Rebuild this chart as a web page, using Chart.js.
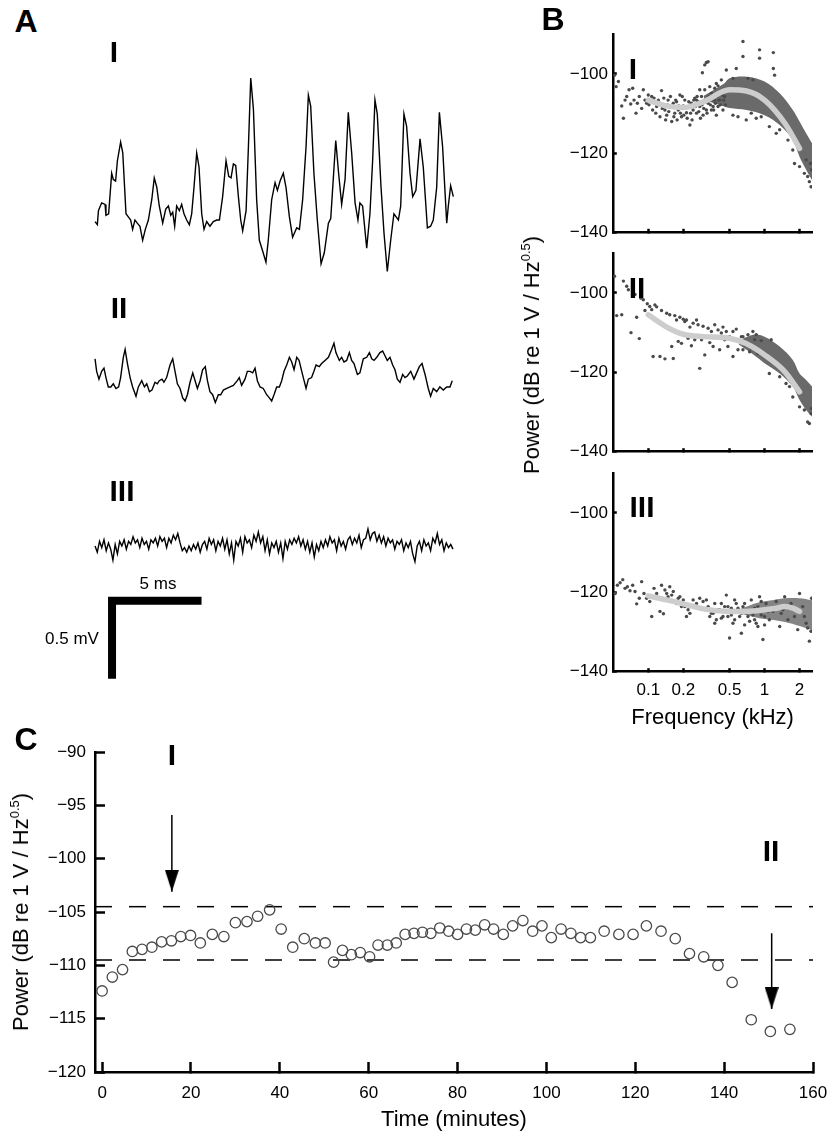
<!DOCTYPE html>
<html>
<head>
<meta charset="utf-8">
<title>Field potential traces, spectra and power over time</title>
<script src="https://cdn.jsdelivr.net/npm/chart.js@4.4.1/dist/chart.umd.min.js"></script>
<style>
  body { margin: 0; background: #fff; }
  #fig { position: relative; width: 830px; height: 1137px; overflow: hidden;
         font-family: 'Liberation Sans', Arial, sans-serif; color: #000; }
  #fig canvas { position: absolute; }
  .txt { position: absolute; transform: translate(-50%, -50%); line-height: 1; white-space: nowrap; }
  .panel { font-size: 32px; font-weight: bold; }
  .roman { font-size: 30px; font-weight: bold; }
  .small { font-size: 17px; }
  .ytitle { position: absolute; transform: translate(-50%, -50%) rotate(-90deg);
            font-size: 22px; line-height: 1; white-space: nowrap; }
  .ytitle sup { font-size: 13px; vertical-align: 9px; line-height: 0; }
</style>
</head>
<body>
<div id="fig">
  <canvas id="traces" width="480" height="660" style="left:0;top:40px"></canvas>
  <canvas id="specI" width="350" height="245" style="left:480px;top:0"></canvas>
  <canvas id="specII" width="350" height="225" style="left:480px;top:240px"></canvas>
  <canvas id="specIII" width="350" height="290" style="left:480px;top:460px"></canvas>
  <canvas id="timeline" width="830" height="447" style="left:0;top:690px"></canvas>

  <div class="txt panel" style="left:26px;top:21px">A</div>
  <div class="txt panel" style="left:553px;top:19px">B</div>
  <div class="txt panel" style="left:26px;top:739px">C</div>

  <div class="txt roman" style="left:114px;top:52px">I</div>
  <div class="txt roman" style="left:119px;top:308px">II</div>
  <div class="txt roman" style="left:122px;top:491px">III</div>
  <div class="txt small" style="left:158px;top:583px">5 ms</div>
  <div class="txt small" style="left:72px;top:638px">0.5 mV</div>

  <div class="txt roman" style="left:633px;top:69px">I</div>
  <div class="txt roman" style="left:637px;top:288px">II</div>
  <div class="txt roman" style="left:642px;top:507px">III</div>
  <div class="ytitle" style="left:532px;top:355px">Power (dB re 1 V / Hz<sup>0.5</sup>)</div>

  <div class="txt roman" style="left:172px;top:755px">I</div>
  <div class="txt roman" style="left:771px;top:851px">II</div>
  <div class="ytitle" style="left:21px;top:912px">Power (dB re 1 V / Hz<sup>0.5</sup>)</div>
</div>

<script>
// ---- A: raw traces (ms, mV) ----
const traceTimeI = [0,0.13,0.19,0.37,0.56,0.61,0.76,0.93,1.02,1.15,1.25,1.43,1.55,1.73,1.86,1.99,2.10,2.23,2.36,2.51,2.66,2.81,2.98,3.17,3.31,3.45,3.59,3.78,3.95,4.10,4.23,4.34,4.45,4.56,4.71,4.84,4.97,5.12,5.27,5.40,5.53,5.68,5.81,5.96,6.09,6.24,6.42,6.61,6.80,6.95,7.13,7.32,7.47,7.60,7.73,7.86,8.01,8.14,8.25,8.44,8.57,8.70,8.85,9.03,9.18,9.37,9.55,9.68,9.87,10.06,10.19,10.34,10.52,10.67,10.86,11.04,11.27,11.42,11.60,11.79,11.92,12.05,12.23,12.42,12.63,12.81,13.04,13.17,13.31,13.45,13.61,13.78,13.97,14.15,14.34,14.53,14.69,14.80,14.95,15.18,15.36,15.51,15.64,15.77,15.98,16.15,16.33,16.52,16.70,16.95,17.08,17.26,17.41,17.60,17.75,17.93,18.16,18.34,18.57,18.75,18.90,19.09,19.24,19.42,19.65,19.74,19.87,20.02];
const traceVoltI = [-0.01,-0.03,0.06,0.11,0.10,0.03,0.04,0.30,0.26,0.25,0.38,0.50,0.43,0.04,0.02,0,-0.06,0.00,-0.02,-0.04,-0.13,-0.06,0,0.13,0.27,0.21,0.09,-0.02,0.07,0.09,0.03,0.05,-0.04,0.09,0.06,0.10,0.04,0,-0.03,0.04,0.21,0.43,0.34,0.04,-0.06,-0.01,-0.04,-0.01,0,0.00,0.15,0.38,0.28,0.27,0.36,0.35,0.15,0,-0.07,0.06,0.47,0.91,0.71,0.13,-0.13,-0.20,-0.27,-0.13,0.13,0.24,0.19,0.25,0.30,0.21,0.02,-0.11,-0.05,-0.06,0.13,0.47,0.80,0.73,0.30,0,-0.28,-0.21,-0.02,0.01,0.26,0.51,0.30,0.10,0.26,0.69,0.43,0.11,0,0.11,0.09,-0.18,0.04,0.38,0.77,0.68,0.21,-0.09,-0.33,-0.13,0.04,0,0.09,0.68,0.60,0.30,0.15,0.19,0.52,0.34,-0.05,-0.04,0,0.21,0.69,0.47,-0.02,0.09,0.22,0.15];

const traceTimeII = [0,0.09,0.22,0.37,0.50,0.61,0.74,0.88,1.02,1.17,1.32,1.43,1.58,1.68,1.81,1.96,2.10,2.29,2.42,2.61,2.76,2.89,3.04,3.18,3.35,3.48,3.59,3.74,3.85,4.00,4.19,4.34,4.47,4.60,4.75,4.90,5.03,5.16,5.31,5.46,5.59,5.72,5.87,6.01,6.16,6.28,6.42,6.57,6.72,6.89,7.02,7.17,7.36,7.54,7.73,7.95,8.06,8.19,8.38,8.51,8.66,8.81,8.94,9.07,9.22,9.40,9.59,9.74,9.87,10.00,10.15,10.30,10.43,10.56,10.71,10.86,10.99,11.12,11.27,11.40,11.55,11.68,11.79,11.92,12.10,12.23,12.35,12.53,12.66,12.85,13.04,13.22,13.35,13.46,13.65,13.78,13.91,14.06,14.21,14.34,14.47,14.66,14.80,14.99,15.18,15.33,15.46,15.59,15.74,15.92,16.07,16.20,16.33,16.48,16.63,16.76,16.89,17.04,17.19,17.32,17.45,17.64,17.82,17.97,18.12,18.27,18.44,18.62,18.75,18.90,19.09,19.27,19.46,19.65,19.83,19.96];
const traceVoltII = [0.14,0.06,0.01,0.06,0.08,0.02,-0.04,-0.04,-0.02,-0.05,-0.04,0.02,0.15,0.20,0.11,0.02,-0.04,-0.10,-0.04,0,-0.04,-0.02,-0.07,-0.06,-0.01,-0.02,0,0.01,-0.01,0.02,0.10,0.14,0.06,-0.02,-0.05,-0.11,-0.13,-0.09,-0.01,0.05,0,-0.05,0,0.07,0.09,0,-0.07,-0.09,-0.14,-0.09,-0.09,-0.06,-0.05,-0.04,-0.03,0,0.02,-0.03,0.01,0.06,0.06,0.05,0.08,0,-0.04,-0.05,-0.09,-0.11,-0.13,-0.09,-0.04,-0.04,0,0.06,0.10,0.15,0.12,0.07,0.15,0.13,0.06,0,-0.05,0.01,0.02,0.06,0.10,0.09,0.11,0.13,0.15,0.20,0.24,0.18,0.13,0.15,0.12,0.13,0.18,0.13,0.11,0.04,0.05,0.14,0.15,0.18,0.14,0.13,0.15,0.18,0.19,0.16,0.13,0.15,0.10,0.07,0.01,-0.01,0.04,0.02,0.03,0.06,0.01,0.05,0.09,0.11,0.04,-0.05,-0.10,-0.05,-0.07,-0.04,-0.06,-0.04,-0.04,0];

// trace III is sampled every 0.125 ms
const traceStepIII = 0.125;
const traceVoltIII = [0.0,-0.04,0.03,-0.01,0.04,-0.03,0.02,-0.02,-0.09,
  0.01,-0.05,0.03,0.0,0.04,-0.02,0.03,0.01,
  0.06,0.02,0.04,-0.01,0.05,0.01,0.03,-0.02,
  0.04,0.02,0.05,0.0,0.06,0.03,0.05,-0.01,
  0.05,0.02,0.07,0.04,0.08,0.02,-0.03,-0.01,
  -0.04,0.0,-0.03,0.01,-0.02,0.02,-0.04,0.01,
  0.03,-0.02,0.05,0.01,0.04,-0.03,0.03,0.0,
  0.05,-0.02,0.04,-0.05,0.02,-0.09,0.03,0.0,
  0.05,-0.04,0.06,0.02,0.04,-0.01,0.07,0.03,
  0.09,0.02,0.06,-0.03,0.04,-0.05,0.02,-0.01,
  0.03,-0.04,0.02,-0.08,0.03,-0.02,0.04,0.01,
  0.05,0.02,0.06,0.0,0.04,-0.02,0.03,-0.04,
  0.02,-0.07,0.01,-0.03,0.03,-0.01,0.04,0.0,
  0.06,0.02,0.04,-0.03,0.05,0.0,0.03,-0.02,
  0.04,0.06,0.01,0.05,0.02,0.07,-0.01,0.04,
  0.05,0.11,0.04,0.08,0.09,0.03,0.07,0.02,
  0.06,0.0,0.05,0.02,0.04,-0.02,0.03,0.01,
  0.04,-0.03,0.02,-0.01,0.03,-0.05,-0.1,0.0,
  0.03,-0.03,0.04,0.0,0.02,-0.03,0.05,0.02,
  0.08,0.01,0.04,-0.03,0.02,-0.01,0.01,-0.02];

const scaleBarMs = 5;
const scaleBarMv = 0.5;

// ---- B: spectra (kHz, dB) ----
const freqTicks = [0.1, 0.2, 0.5, 1, 2];
const freqTickLabels = ['0.1', '0.2', '0.5', '1', '2'];
const specTicks = [-140, -120, -100];

const fitFreqI = [0.1,0.14,0.2,0.3,0.5,0.7,1,1.5,2];
const fitPowI = [-106.6,-108.0,-108.5,-107.0,-104.0,-104.3,-106.6,-112.5,-118.8];
const dotFreqI = [0.0512,0.0528,0.0553,0.0591,0.0611,0.0631,0.0652,0.0683,0.0706,0.0734,0.0754,0.0784,0.0805,0.0837,0.0877,0.0906,0.0936,0.0968,0.1,0.105,0.109,0.112,0.118,0.122,0.126,0.130,0.135,0.139,0.144,0.148,0.153,0.159,0.164,0.169,0.175,0.181,0.187,0.193,0.2,0.206,0.213,0.220,0.228,0.235,0.243,0.251,0.260,0.268,0.277,0.287,0.296,0.306,0.316,0.327,0.338,0.349,0.361,0.373,0.385,0.398,0.411,0.425,0.439,0.454,
  0.292,0.306,0.327,0.469,0.571,0.652,0.652,0.906,0.906,1.19,1.19,1.22,0.72,0.535,0.794,
  0.535,0.591,0.696,0.769,0.848,0.936,1.10,1.26,1.35,1.59,1.75,1.81,2.0,2.2,2.35,2.43,2.51,2.54,2.48,2.28,
  0.338,0.361,0.385,0.411,0.373,0.349,0.398,0.316,0.277,0.26,
  0.1013,0.107,0.116,0.123,0.132,0.136,0.141,0.146,0.150,0.155,0.161,0.166,0.172,0.177,0.183,0.189,0.196,0.202,0.209,0.216,0.223,0.231,0.238,0.246,0.255,0.263,0.272,0.281,0.290,0.300,0.310,0.320,0.331,0.342,0.354,0.365,0.378,0.390,0.403,0.417,0.431,0.446,0.460];
const dotPowI = [-100.3,-103.2,-101.9,-108.1,-111.2,-106.6,-105.7,-104.0,-107.6,-103.6,-106.6,-109.9,-107.4,-105.7,-108.7,-104.0,-106.6,-107.4,-105.3,-106.6,-109.1,-106.1,-108.2,-106.6,-110.8,-104.2,-107.8,-109.1,-110.4,-106.6,-108.4,-112.0,-107.4,-109.9,-107.0,-109.1,-105.3,-110.8,-108.1,-106.6,-109.8,-108.4,-112.9,-107.4,-109.1,-106.1,-109.9,-107.0,-108.2,-105.7,-110.4,-104.0,-97.1,-107.4,-103.2,-109.1,-105.3,-106.6,-102.4,-108.2,-104.5,-101.5,-109.1,-105.7,
  -99.7,-97.7,-96.9,-99.0,-98.6,-91.8,-95.6,-93.9,-96.0,-94.6,-98.6,-100.3,-101.1,-101.1,-101.5,
  -110.4,-110.8,-111.6,-109.9,-111.2,-110.8,-113.3,-115.0,-114.1,-116.7,-119.2,-122.6,-123.4,-125.1,-125.9,-127.2,-128.5,-124.2,-122.6,-121.7,
  -106.6,-108.2,-110.4,-106.6,-103.6,-104.9,-103.0,-109.1,-104.0,-106.6,
  -107.8,-105.7,-109.9,-107.4,-108.7,-106.1,-111.6,-107.8,-109.5,-105.7,-108.2,-110.8,-106.6,-111.6,-108.1,-109.9,-105.7,-110.4,-108.7,-111.2,-107.0,-109.9,-111.6,-106.6,-108.2,-105.7,-109.5,-111.2,-107.8,-108.7,-106.6,-109.9,-105.7,-107.8,-106.6,-109.1,-107.4,-105.7,-106.6,-107.8,-105.3,-106.6,-107.8];
const denseFreqI = [0.3,0.45,0.5,0.7,1,1.35,1.75,2,2.28,2.56];
const denseTopI = [-105.5,-102.4,-101.1,-100.7,-101.9,-104.9,-109.1,-112.0,-115.0,-117.5];
const denseBottomI = [-106.5,-108.2,-108.6,-109.1,-110.4,-112.9,-116.7,-120.9,-124.2,-126.8];

const fitFreqII = [0.1,0.144,0.2,0.296,0.5,0.7,1,1.49,2];
const fitPowII = [-105.5,-108.6,-110.4,-111.0,-111.4,-112.8,-115.6,-119.8,-124.9];
const dotFreqII = [0.0512,0.0535,0.0591,0.0611,0.0652,0.0674,0.0710,0.0734,0.0769,0.0794,0.0837,0.0865,0.0906,0.0936,0.0980,0.103,0.107,0.110,0.114,0.118,0.126,0.130,0.139,0.144,0.153,0.159,0.164,0.169,0.175,0.181,0.187,0.193,0.2,0.206,0.213,0.220,0.228,0.235,0.243,0.251,0.260,0.268,0.277,0.287,0.296,0.306,0.316,0.327,0.338,0.349,0.361,0.373,0.385,0.398,0.411,0.425,0.439,0.454,0.469,0.484,0.5,0.535,0.571,0.652,0.744,0.794,0.936,1.14,1.10,1.35,1.64,2.0,2.2,2.35,2.43,2.51,2.54,1.75,1.53,
  0.535,0.591,0.632,0.674,0.72,0.769,0.821,0.877,0.535,0.652,0.744,0.848];
const dotPowII = [-95.8,-105.7,-105.5,-97.0,-98.3,-99.2,-110.0,-100.0,-100.4,-106.1,-111.5,-101.3,-101.7,-104.4,-102.7,-103.4,-104.2,-116.0,-103.0,-103.5,-116.0,-104.4,-116.6,-105.1,-105.5,-113.5,-116.5,-105.7,-106.8,-112.2,-106.1,-112.7,-106.6,-107.2,-106.8,-111.4,-108.6,-113.3,-107.6,-111.8,-106.8,-108.0,-119.0,-111.8,-108.4,-115.6,-111.0,-108.9,-112.5,-109.7,-113.5,-108.0,-111.0,-109.3,-114.3,-110.1,-108.6,-111.8,-109.7,-113.5,-111.0,-116.0,-109.1,-114.3,-112.7,-109.7,-112.0,-111.8,-120.3,-121.1,-123.6,-128.7,-129.5,-132.5,-132.9,-130.4,-129.1,-126.2,-122.8,
  -111.8,-114.3,-111.0,-113.1,-110.5,-113.9,-111.8,-115.2,-109.7,-111.0,-114.8,-110.5];
const denseFreqII = [0.6,0.8,1.0,1.35,1.75,2.0,2.28,2.56];
const denseTopII = [-112.0,-110.5,-111.0,-113.5,-116.9,-120.3,-121.9,-123.6];
const denseBottomII = [-113.0,-115.5,-117.7,-120.3,-123.6,-127.0,-129.5,-131.2];

const fitFreqIII = [0.1,0.144,0.2,0.316,0.5,0.7,1,1.26,1.49,1.75,2];
const fitPowIII = [-120.9,-121.9,-122.9,-124.3,-124.8,-124.8,-124.4,-124.0,-123.6,-124.0,-124.8];
const dotFreqIII = [0.0518,0.0542,0.0572,0.0603,0.0631,0.0661,0.0696,0.0734,0.0769,0.0794,0.0837,0.0877,0.0918,0.0968,0.103,0.107,0.112,0.118,0.126,0.130,0.135,0.139,0.144,0.148,0.153,0.159,0.164,0.175,0.181,0.187,0.193,0.2,0.206,0.213,0.220,0.228,0.243,0.260,0.277,0.296,0.316,0.338,0.361,0.385,0.411,0.439,0.469,0.484,0.5,0.518,0.535,0.571,0.611,0.632,0.652,0.696,0.744,0.769,0.821,0.848,0.906,0.968,1.0,1.03,1.10,1.18,1.26,1.35,1.39,1.49,1.59,1.69,1.81,1.93,2.0,2.13,2.28,2.35,2.43,2.51,2.54,2.2,1.87,1.44,1.07,0.794,0.454,0.553,
  0.327,0.349,0.373,0.398,0.425,0.454,0.484,0.518,0.553,0.591,0.632,0.674,0.72,0.769,0.821,0.877,0.936,1.0,1.03,0.373,0.425,0.553,0.674,0.877,0.936];
const dotPowIII = [-120.3,-118.2,-117.6,-116.8,-119.0,-118.6,-119.6,-118.2,-119.8,-122.9,-121.5,-117.3,-120.3,-121.5,-122.3,-126.1,-119.0,-120.3,-124.8,-118.2,-125.4,-119.4,-120.3,-121.1,-118.6,-120.7,-119.8,-122.8,-121.5,-121.1,-123.6,-121.9,-123.6,-126.1,-124.4,-125.3,-121.9,-122.8,-121.5,-122.3,-121.9,-126.1,-125.3,-126.9,-124.4,-126.1,-120.7,-126.1,-131.5,-124.0,-127.8,-122.8,-126.1,-130.3,-123.6,-125.3,-127.3,-121.9,-124.0,-127.8,-121.1,-131.9,-126.1,-122.8,-126.9,-124.8,-122.3,-128.6,-125.3,-121.1,-126.9,-122.8,-126.1,-129.4,-120.3,-123.6,-127.8,-129.0,-132.3,-129.8,-121.5,-126.1,-124.4,-124.4,-124.8,-125.7,-123.6,-124.8,
  -123.6,-125.3,-122.8,-124.4,-126.5,-124.8,-123.6,-125.7,-126.9,-124.0,-125.3,-122.8,-126.1,-124.8,-126.9,-123.6,-125.7,-128.2,-124.0,-127.8,-122.8,-121.9,-128.2,-128.6,-122.3];
const denseFreqIII = [0.6,0.9,1.2,1.5,2.0,2.56];
const denseTopIII = [-124.3,-122.5,-121.9,-121.5,-121.5,-122.0];
const denseBottomIII = [-125.3,-126.5,-127.0,-127.5,-128.5,-129.5];

// ---- C: power over the session ----
const sessionMinutes = [0,2.3,4.6,6.8,9.0,11.2,13.4,15.6,17.7,19.9,22.1,24.8,27.4,30.0,32.6,35.0,37.7,40.3,42.9,45.5,48.0,50.2,52.1,54.1,56.1,58.1,60.2,62.1,64.2,66.2,68.2,70.2,72.1,74.0,76.0,78.0,80.0,82.0,84.0,86.1,88.1,90.3,92.4,94.7,96.9,99.0,101.1,103.3,105.5,107.7,109.9,113.0,116.3,119.5,122.5,125.8,129.0,132.2,135.4,138.6,141.8,146.1,150.4,154.8];
const sessionPower = [-112.4,-111.1,-110.4,-108.7,-108.5,-108.3,-107.8,-107.7,-107.3,-107.2,-107.9,-107.1,-107.3,-106.0,-105.9,-105.4,-104.8,-106.6,-108.3,-107.5,-107.9,-107.9,-109.7,-108.6,-109.0,-108.8,-109.2,-108.1,-108.1,-107.9,-107.1,-107.0,-106.9,-107.0,-106.5,-106.8,-107.1,-106.6,-106.7,-106.2,-106.6,-107.1,-106.3,-105.8,-106.8,-106.3,-107.4,-106.6,-107.0,-107.4,-107.4,-106.8,-107.1,-107.1,-106.3,-106.8,-107.5,-108.9,-109.2,-110.0,-111.6,-115.1,-116.2,-116.0];
const limitUpper = -104.5;
const limitLower = -109.5;
const timeTicks = [0, 20, 40, 60, 80, 100, 120, 140, 160];
const powerTicks = [-120, -115, -110, -105, -100, -95, -90];
const arrowMinutes = [15.7, 150.7];
const arrowFrom = [-95.9, -107.0];
const arrowTo = [-103.1, -114.1];

// ---------------------------------------------------------------
Chart.defaults.font.family = "'Liberation Sans', Arial, sans-serif";
Chart.defaults.color = '#000';
Chart.defaults.animation = false;
Chart.defaults.plugins.legend.display = false;
Chart.defaults.plugins.tooltip.enabled = false;

const pts = (xs, ys, shift = 0) => xs.map((x, i) => ({ x: x, y: ys[i] + shift }));
const minus = v => (v < 0 ? '\u2212' + Math.abs(v) : String(v));

function axisLook(tickLen) {
  return {
    border: { display: true, color: '#000', width: 2.5 },
    grid: { drawOnChartArea: false, drawTicks: true, tickLength: -tickLen, tickWidth: 2.5, tickColor: '#000' }
  };
}
// pin the axis box so the plot area lands where the figure has it
function pinBox(size, horizontal) {
  return scale => {
    if (horizontal) scale.height = size; else scale.width = size;
    scale.paddingLeft = scale.paddingRight = scale.paddingTop = scale.paddingBottom = 0;
  };
}
const fixTicks = list => scale => { scale.ticks = list.map(v => ({ value: v })); };

// ---- panel A ----
const traceBase = [0, -1.03, -2.09];   // vertical placement of the three traces
const barCorner = { t: 0.95, v: -2.44 };
const traceLine = { showLine: true, pointRadius: 0, borderColor: '#000', borderWidth: 1.4, fill: false };

new Chart(document.getElementById('traces'), {
  type: 'scatter',
  data: {
    datasets: [
      { ...traceLine, data: pts(traceTimeI, traceVoltI, traceBase[0]) },
      { ...traceLine, data: pts(traceTimeII, traceVoltII, traceBase[1]) },
      { ...traceLine, data: traceVoltIII.map((v, i) => ({ x: i * traceStepIII, y: v + traceBase[2] })) },
      {
        showLine: true, pointRadius: 0, borderColor: '#000', borderWidth: 8,
        borderJoinStyle: 'miter', borderCapStyle: 'butt',
        data: [
          { x: barCorner.t, y: barCorner.v - scaleBarMv },
          { x: barCorner.t, y: barCorner.v },
          { x: barCorner.t + scaleBarMs, y: barCorner.v }
        ]
      }
    ]
  },
  options: {
    responsive: false,
    layout: { padding: 0 },
    scales: {
      x: { type: 'linear', display: false, min: -5.31, max: 21.51 },
      y: { type: 'linear', display: false, min: -3.077, max: 1.154 }
    }
  }
});

// ---- panel B ----
function spectrum(id, s) {
  return new Chart(document.getElementById(id), {
    type: 'scatter',
    data: {
      datasets: [
        { type: 'line', data: pts(s.fitF, s.fitP), borderColor: '#cdcdcd', borderWidth: 5.5,
          borderCapStyle: 'round', pointRadius: 0, cubicInterpolationMode: 'monotone', fill: false },
        { data: pts(s.dotF, s.dotP), pointRadius: 1.7, pointBackgroundColor: '#4a4a4a',
          pointBorderWidth: 0, showLine: false },
        { type: 'line', data: pts(s.bandF, s.bandTop), borderWidth: 0, borderColor: 'transparent',
          pointRadius: 0, tension: 0.35, fill: '+1', backgroundColor: s.bandColor },
        { type: 'line', data: pts(s.bandF, s.bandBottom), borderWidth: 0, borderColor: 'transparent',
          pointRadius: 0, tension: 0.35, fill: false }
      ]
    },
    options: {
      responsive: false,
      layout: { padding: { top: s.padTop, right: 18, left: 0, bottom: 0 } },
      scales: {
        x: {
          type: 'logarithmic', min: 0.05, max: 2.56, ...axisLook(3.5),
          afterFit: pinBox(s.xBox, true), afterBuildTicks: fixTicks(freqTicks),
          ticks: { display: s.labels, autoSkip: false, maxRotation: 0, padding: 11.5,
                   font: { size: 17 }, callback: (v, i) => freqTickLabels[i] },
          title: { display: s.labels, text: 'Frequency (kHz)', font: { size: 22 },
                   padding: { top: 0, bottom: 19 } }
        },
        y: {
          type: 'linear', min: -140, max: -90, ...axisLook(3.5),
          afterFit: pinBox(133.3, false), afterBuildTicks: fixTicks(specTicks),
          ticks: { padding: 8.8, font: { size: 17 }, callback: v => minus(v) }
        }
      }
    }
  });
}

spectrum('specI', { fitF: fitFreqI, fitP: fitPowI, dotF: dotFreqI, dotP: dotPowI,
  bandF: denseFreqI, bandTop: denseTopI, bandBottom: denseBottomI, bandColor: 'rgba(80,80,80,0.85)',
  padTop: 34.4, xBox: 12.7, labels: false });
spectrum('specII', { fitF: fitFreqII, fitP: fitPowII, dotF: dotFreqII, dotP: dotPowII,
  bandF: denseFreqII, bandTop: denseTopII, bandBottom: denseBottomII, bandColor: 'rgba(80,80,80,0.85)',
  padTop: 13.3, xBox: 13.3, labels: false });
spectrum('specIII', { fitF: fitFreqIII, fitP: fitPowIII, dotF: dotFreqIII, dotP: dotPowIII,
  bandF: denseFreqIII, bandTop: denseTopIII, bandBottom: denseBottomIII, bandColor: 'rgba(80,80,80,0.7)',
  padTop: 13.3, xBox: 78.3, labels: true });

// ---- panel C ----
function arrowHead() {
  const c = document.createElement('canvas');
  c.width = 14; c.height = 44;          // tip sits at the centre of the image
  const g = c.getContext('2d');
  g.fillStyle = '#000';
  g.beginPath(); g.moveTo(0, 0); g.lineTo(14, 0); g.lineTo(7, 22); g.closePath(); g.fill();
  return c;
}
const head = arrowHead();
const arrowSets = arrowMinutes.map((t, k) => ({
  type: 'line', borderColor: '#000', borderWidth: 1.5, fill: false,
  data: [{ x: t, y: arrowFrom[k] }, { x: t, y: arrowTo[k] }],
  pointStyle: ctx => (ctx.dataIndex === 1 ? head : 'circle'),
  pointRadius: ctx => (ctx.dataIndex === 1 ? 5 : 0)
}));
const xSpan = [-1.6, 160];
const dashed = y => ({
  type: 'line', data: xSpan.map(x => ({ x: x, y: y })), borderColor: '#000', borderWidth: 1.5,
  borderDash: [17, 17], pointRadius: 0, fill: false
});

new Chart(document.getElementById('timeline'), {
  type: 'scatter',
  data: {
    datasets: [
      { data: pts(sessionMinutes, sessionPower), pointRadius: 5.2, pointBorderWidth: 1.3,
        pointBorderColor: '#4a4a4a', pointBackgroundColor: 'rgba(0,0,0,0)' },
      dashed(limitUpper),
      dashed(limitLower),
      ...arrowSets
    ]
  },
  options: {
    responsive: false,
    layout: { padding: { top: 62, right: 17, left: 0, bottom: 0 } },
    scales: {
      x: {
        type: 'linear', min: xSpan[0], max: xSpan[1], ...axisLook(10),
        afterFit: pinBox(65, true), afterBuildTicks: fixTicks(timeTicks),
        ticks: { autoSkip: false, maxRotation: 0, padding: 21, font: { size: 17 } },
        title: { display: true, text: 'Time (minutes)', font: { size: 22 }, padding: { top: 0, bottom: 4 } }
      },
      y: {
        type: 'linear', min: -120, max: -90, ...axisLook(10),
        afterFit: pinBox(95, false), afterBuildTicks: fixTicks(powerTicks),
        ticks: { padding: 19, font: { size: 17 }, callback: v => minus(v) }
      }
    }
  }
});
</script>
</body>
</html>
